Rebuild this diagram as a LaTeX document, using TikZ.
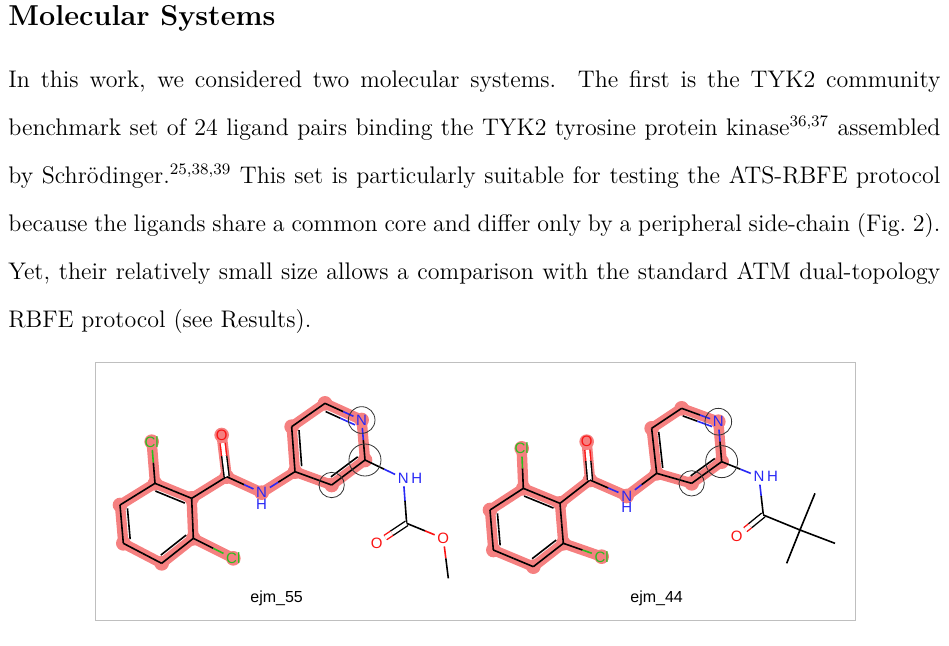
\documentclass[tikz,border=0pt]{standalone}
\usepackage{fontspec}
\setsansfont{Liberation Sans}
\usepackage{tikz}
\usetikzlibrary{calc,positioning}
\pgfdeclarelayer{background}
\pgfsetlayers{background,main}
\definecolor{hlred}{RGB}{245,128,128}
\definecolor{atN}{RGB}{40,40,245}
\definecolor{atO}{RGB}{250,20,20}
\definecolor{atCl}{RGB}{40,190,30}
\tikzset{bond/.style={line width=0.8pt}}
\tikzset{hl/.style={draw=hlred, line width=5.2pt, line cap=round, line join=round}}
\tikzset{atom/.style={font=\sffamily\fontsize{7.5}{8}\selectfont, inner sep=1.2pt}}
\tikzset{ringmark/.style={draw=black!80, line width=0.4pt}}
\newcommand{\bnd}[4]{\draw[bond,#3] (#1) -- ($(#1)!0.5!(#2)$); \draw[bond,#4] ($(#1)!0.5!(#2)$) -- (#2);}
\newcommand{\inr}[5]{\draw[bond,#4] ($(#1)!0.2!(#3)$) -- ($(#1)!0.5!(#2)!0.2!(#3)$); \draw[bond,#5] ($(#1)!0.5!(#2)!0.2!(#3)$) -- ($(#2)!0.2!(#3)$);}
\newcommand{\dbl}[4]{\draw[bond,#3,double=white,double distance=1.8pt,line width=0.7pt] (#1) -- ($(#1)!0.5!(#2)$); \draw[bond,#4,double=white,double distance=1.8pt,line width=0.7pt] ($(#1)!0.5!(#2)$) -- (#2);}
% common core of both ligands
\newcommand{\drawcore}[1]{%
  \begin{pgfonlayer}{background}
  \path[hl] (#1a1) -- (#1a2) -- (#1a3) -- (#1a4) -- (#1a5) -- (#1a6) -- cycle;
  \path[hl] (#1a1) -- (#1clA.center) (#1a3) -- (#1clB.center);
  \path[hl] (#1a2) -- (#1cc) -- (#1o1.center) (#1cc) -- (#1n1.center) -- (#1p1);
  \path[hl] (#1p1) -- (#1p2) -- (#1p3) -- (#1pn.center) -- (#1p5) -- (#1p6) -- cycle;
  \foreach \a in {a1,a2,a3,a4,a5,a6,clA.center,clB.center,cc,o1.center,n1.center,p1,p2,p3,pn.center,p5,p6}
    \fill[hlred] (#1\a) circle[radius=11pt];
  \end{pgfonlayer}
  \bnd{#1a1}{#1a2}{black}{black} \bnd{#1a2}{#1a3}{black}{black}
  \bnd{#1a3}{#1a4}{black}{black} \bnd{#1a4}{#1a5}{black}{black}
  \bnd{#1a5}{#1a6}{black}{black} \bnd{#1a6}{#1a1}{black}{black}
  \inr{#1a1}{#1a2}{#1ca}{black}{black} \inr{#1a3}{#1a4}{#1ca}{black}{black}
  \inr{#1a5}{#1a6}{#1ca}{black}{black}
  \bnd{#1a1}{#1clA}{black}{atCl} \bnd{#1a3}{#1clB}{black}{atCl}
  \bnd{#1a2}{#1cc}{black}{black} \dbl{#1cc}{#1o1}{black}{atO}
  \bnd{#1cc}{#1n1}{black}{atN} \bnd{#1n1}{#1p1}{atN}{black}
  \bnd{#1p1}{#1p2}{black}{black} \bnd{#1p2}{#1p3}{black}{black}
  \bnd{#1p3}{#1pn}{black}{atN} \bnd{#1pn}{#1p5}{atN}{black}
  \bnd{#1p5}{#1p6}{black}{black} \bnd{#1p6}{#1p1}{black}{black}
  \inr{#1p1}{#1p2}{#1pc}{black}{black} \inr{#1p3}{#1pn.center}{#1pc}{black}{atN}
  \inr{#1p6}{#1p5}{#1pc}{black}{black}
  \bnd{#1p5}{#1n2}{black}{atN}
  \draw[ringmark] (#1pn) circle[radius=20pt];
  \draw[ringmark] (#1p5) circle[radius=24pt];
  \draw[ringmark] (#1p6) circle[radius=19pt];
}
\begin{document}
\begin{tikzpicture}[x=0.5pt,y=-0.5pt]
\useasboundingbox (0,0) rectangle (949,645);
\node[anchor=west, inner sep=0, font=\Large\bfseries] (head) at (8,18) {Molecular Systems};
\node[anchor=north west, inner sep=0, text width=466pt, align=justify,
      font=\fontsize{12}{24}\selectfont] (para) at (8,70)
 {In this work, we considered two molecular systems.\ \ The first is the TYK2 community\linebreak
  benchmark set of 24 ligand pairs binding the TYK2 tyrosine protein kinase$^{36,37}$ assembled\linebreak
  by Schr\"odinger.$^{25,38,39}$ This set is particularly suitable for testing the ATS-RBFE protocol\linebreak
  because the ligands share a common core and differ only by a peripheral side-chain (Fig.~2).\linebreak
  Yet, their relatively small size allows a comparison with the standard ATM dual-topology\linebreak
  RBFE protocol (see Results).};
\draw[black!25, line width=0.4pt] (95,362) rectangle (855,620);
% ejm_55
\begin{scope}[shift={(95,360)}, scale=1/3]
  \coordinate (Aa1) at (180,370); \coordinate (Aa2) at (290,415); \coordinate (Aa3) at (295,535);
  \coordinate (Aa4) at (200,610); \coordinate (Aa5) at (85,550);  \coordinate (Aa6) at (75,435);
  \coordinate (Aca) at (187,486);
  \node[atom, text=atCl] (AclA) at (170,245) {Cl};
  \node[atom, text=atCl] (AclB) at (415,595) {Cl};
  \coordinate (Acc) at (395,350);
  \node[atom, text=atO] (Ao1) at (380,225) {O};
  \node[atom, text=atN] (An1) at (500,398) {N};
  \node[atom, text=atN] (Ah1) at (500,432) {H};
  \coordinate (Ap1) at (600,335); \coordinate (Ap2) at (590,200); \coordinate (Ap3) at (690,130);
  \node[atom, text=atN] (Apn) at (800,180) {N};
  \coordinate (Ap5) at (810,300); \coordinate (Ap6) at (710,375);
  \coordinate (Apc) at (700,253);
  \node[atom, text=atN] (An2) at (925,355) {N};
  \node[atom, text=atN, right=-1.5pt of An2] (Ah2) {H};
  \coordinate (Ack) at (935,490);
  \node[atom, text=atO] (Ao2) at (845,550) {O};
  \node[atom, text=atO] (Ao3) at (1045,535) {O};
  \coordinate (Ame) at (1060,655);
  \drawcore{A}
  \bnd{An2}{Ack}{atN}{black} \dbl{Ack}{Ao2}{black}{atO}
  \bnd{Ack}{Ao3}{black}{atO} \bnd{Ao3}{Ame}{atO}{black}
  \node[font=\sffamily\fontsize{8}{9}\selectfont] (lab55) at (545,715) {ejm\_55};
\end{scope}
% ejm_44
\begin{scope}[shift={(475,360)}, scale=1/3]
  \coordinate (Ba1) at (145,385); \coordinate (Ba2) at (255,430); \coordinate (Ba3) at (265,550);
  \coordinate (Ba4) at (175,620); \coordinate (Ba5) at (55,570);  \coordinate (Ba6) at (45,450);
  \coordinate (Bca) at (157,501);
  \node[atom, text=atCl] (BclA) at (140,265) {Cl};
  \node[atom, text=atCl] (BclB) at (380,590) {Cl};
  \coordinate (Bcc) at (345,360);
  \node[atom, text=atO] (Bo1) at (335,245) {O};
  \node[atom, text=atN] (Bn1) at (455,408) {N};
  \node[atom, text=atN] (Bh1) at (455,442) {H};
  \coordinate (Bp1) at (545,340); \coordinate (Bp2) at (530,205); \coordinate (Bp3) at (620,145);
  \node[atom, text=atN] (Bpn) at (730,185) {N};
  \coordinate (Bp5) at (740,305); \coordinate (Bp6) at (650,370);
  \coordinate (Bpc) at (636,258);
  \node[atom, text=atN] (Bn2) at (852,350) {N};
  \node[atom, text=atN, right=-1.5pt of Bn2] (Bh2) {H};
  \coordinate (Bck) at (865,465);
  \node[atom, text=atO] (Bo2) at (785,530) {O};
  \coordinate (Bcq) at (975,510); \coordinate (Bm1) at (1020,400);
  \coordinate (Bm2) at (1080,550); \coordinate (Bm3) at (935,610);
  \drawcore{B}
  \bnd{Bn2}{Bck}{atN}{black} \dbl{Bck}{Bo2}{black}{atO}
  \draw[bond] (Bck) -- (Bcq) (Bcq) -- (Bm1) (Bcq) -- (Bm2) (Bcq) -- (Bm3);
  \node[font=\sffamily\fontsize{8}{9}\selectfont] (lab44) at (545,715) {ejm\_44};
\end{scope}
\end{tikzpicture}
\end{document}
